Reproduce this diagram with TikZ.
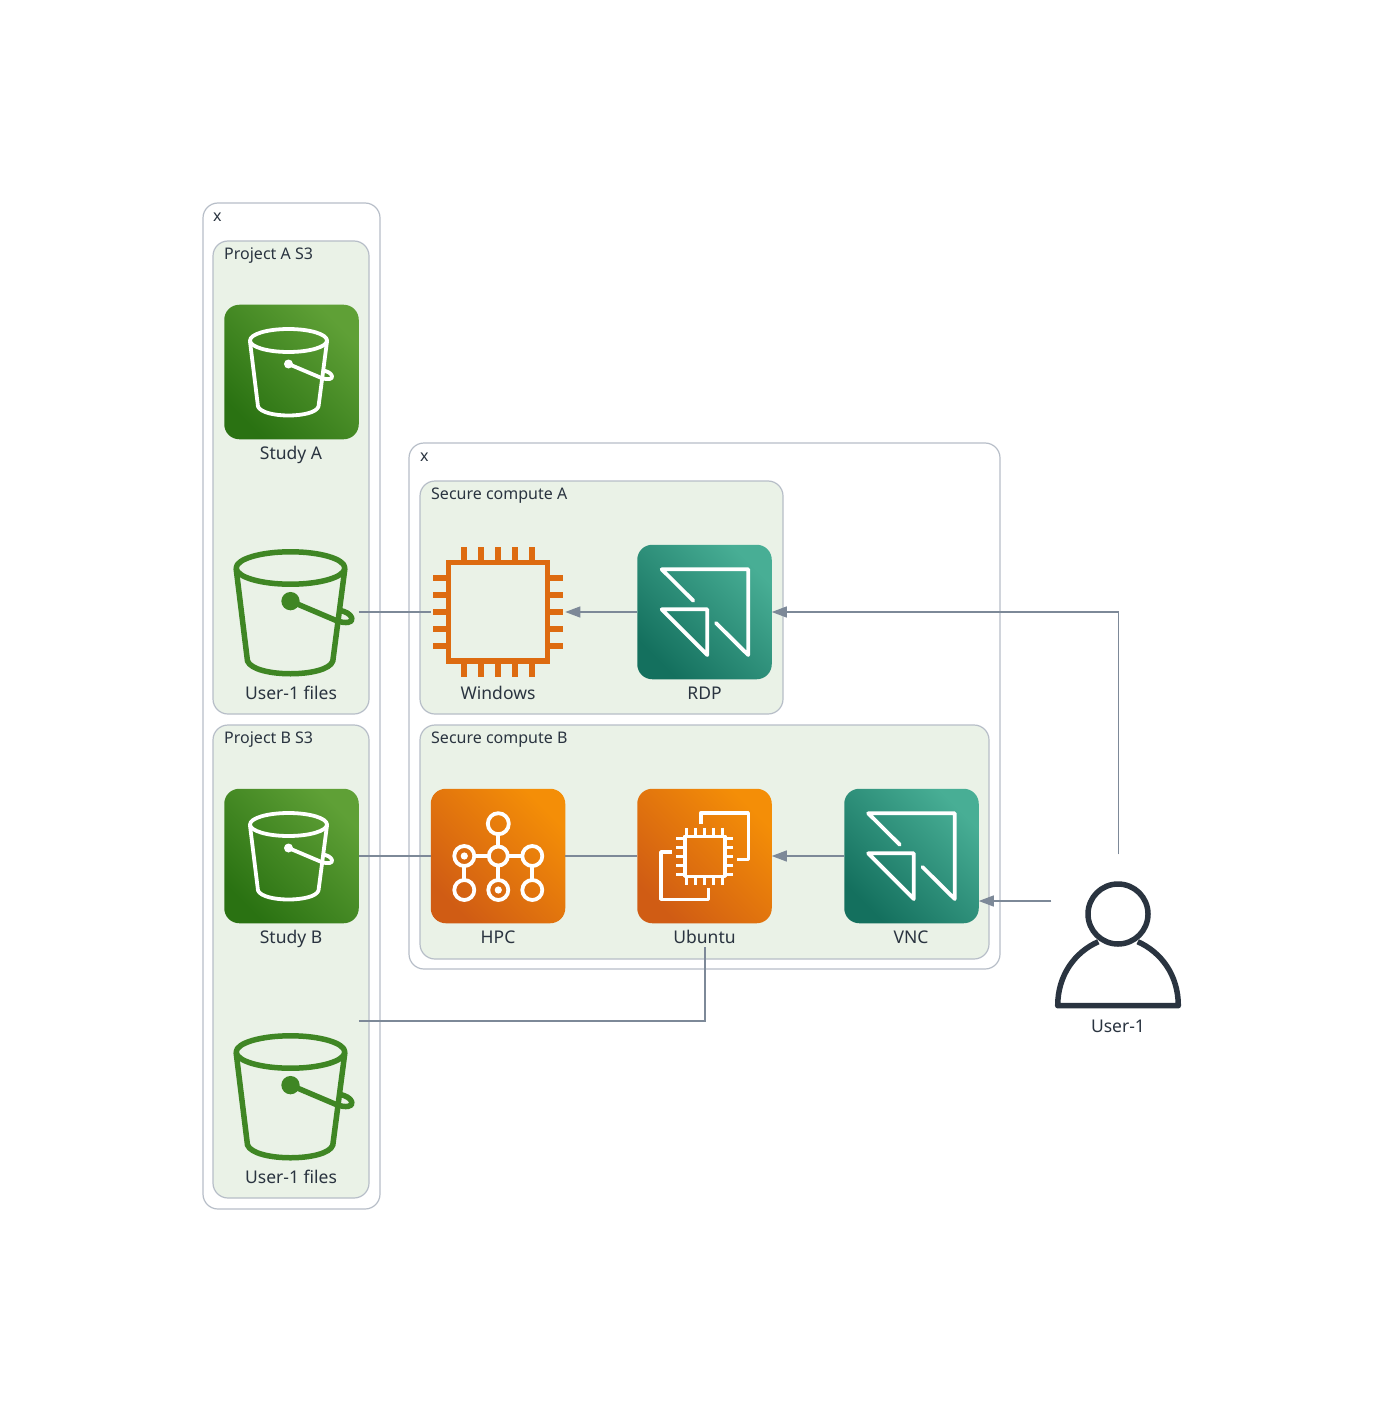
\documentclass[tikz,border=0pt]{standalone}
\usepackage{fontspec}
\setmainfont{Noto Sans}
\usetikzlibrary{arrows.meta,calc}
\definecolor{ink}{HTML}{2A3440}
\definecolor{edgec}{HTML}{7D8998}
\definecolor{groupline}{HTML}{B7BEC8}
\definecolor{groupfill}{HTML}{EAF2E7}
\definecolor{storage}{HTML}{3F8624}
\definecolor{compute}{HTML}{DD6B10}
\definecolor{greenlo}{HTML}{2A7212}
\definecolor{greenhi}{HTML}{5FA036}
\definecolor{orangelo}{HTML}{D05C14}
\definecolor{orangehi}{HTML}{F48E07}
\definecolor{teallo}{HTML}{14705E}
\definecolor{tealhi}{HTML}{48AE95}
\tikzset{
  groupbox/.style={draw=groupline,line width=1.2pt,rounded corners=15pt,inner sep=0pt,outer sep=0pt},
  outerbox/.style={groupbox,fill=white},
  innerbox/.style={groupbox,fill=groupfill},
  grouplabel/.style={anchor=base west,font=\fontsize{16}{18}\selectfont,text=ink,inner sep=0pt},
  iconlabel/.style={anchor=base,font=\fontsize{17.5}{20}\selectfont,text=ink,inner sep=0pt},
  slot/.style={minimum size=134.5pt,inner sep=0pt,outer sep=0pt},
  greenicon/.style={slot,rounded corners=15pt,left color=greenlo,right color=greenhi,shading angle=135},
  orangeicon/.style={slot,rounded corners=15pt,left color=orangelo,right color=orangehi,shading angle=135},
  tealicon/.style={slot,rounded corners=15pt,left color=teallo,right color=tealhi,shading angle=135},
  conn/.style={draw=edgec,line width=1.2pt},
  arrowconn/.style={conn,-{Triangle[length=15pt,width=11pt]}},
  glyph/.style={draw=white,line width=3.8pt,line join=round},
}
% #1 ellipse centre, #2 scale, #3 colour, #4 line width, #5 dot radius
\newcommand{\bucketglyph}[5]{%
  \begin{scope}[shift={#1},scale=#2,draw=#3,line width=#4,line cap=round,line join=round]
    \draw (0,0) ellipse (38.5 and 11.5);
    \draw (-38.5,1) -- (-30.5,66) .. controls (-28,72) and (-14,75) .. (0,75)
      .. controls (14,75) and (28,72) .. (30,66) -- (38.5,1);
    \fill[#3] (0,23.5) circle (#5);
    \draw (0,23.5) -- (33,37.5) .. controls (39,39.5) and (44.5,39) .. (43.5,35.5)
      .. controls (42.5,32.5) and (39,31) .. (35,30);
  \end{scope}}
\newcommand{\rdpglyph}[1]{%
  \begin{scope}[shift={#1},line cap=round]
    \draw[glyph] (-11.7,-11.3) -- (-43.3,-42.7) -- (43.2,-42.7) -- (43.2,43) -- (11,11);
    \draw[glyph] (-43.3,-2.7) -- (2.3,-2.7) -- (2.3,43) -- cycle;
  \end{scope}}
\begin{document}
\begin{tikzpicture}[x=1pt,y=-1pt]
\useasboundingbox[fill=white] (0,0) rectangle (1377,1412);
% groups
\node[outerbox,minimum width=177pt,minimum height=1006pt] (outerL) at (291.5,706) {};
\node[outerbox,minimum width=591pt,minimum height=526pt] (outerR) at (704.5,706) {};
\node[innerbox,minimum width=156pt,minimum height=473pt] (projA) at (291,477.5) {};
\node[innerbox,minimum width=156pt,minimum height=473pt] (projB) at (291,961.5) {};
\node[innerbox,minimum width=363pt,minimum height=233pt] (secA) at (601.5,597.5) {};
\node[innerbox,minimum width=569pt,minimum height=234pt] (secB) at (704.5,842) {};
\node[grouplabel] (lx1) at (213,222) {x};
\node[grouplabel] (lx2) at (420,461) {x};
\node[grouplabel] (lpa) at (224,260) {Project A S3};
\node[grouplabel] (lpb) at (224,743) {Project B S3};
\node[grouplabel] (lsa) at (431,499) {Secure compute A};
\node[grouplabel] (lsb) at (431,743) {Secure compute B};
% icon nodes
\node[greenicon] (studyA) at (291.5,372) {};
\node[greenicon] (studyB) at (291.5,856) {};
\node[slot] (filesA) at (291.5,612) {};
\node[slot] (filesB) at (291.5,1096) {};
\node[slot] (windows) at (498,612) {};
\node[tealicon] (rdp) at (704.5,612) {};
\node[orangeicon] (hpc) at (498,856) {};
\node[orangeicon] (ubuntu) at (704.5,856) {};
\node[tealicon] (vnc) at (911.5,856) {};
\node[slot] (user) at (1118.5,921.5) {};
% labels
\node[iconlabel] (lstudyA) at (291,459) {Study A};
\node[iconlabel] (lstudyB) at (291,943) {Study B};
\node[iconlabel] (lfilesA) at (291,699) {User-1 files};
\node[iconlabel] (lfilesB) at (291,1183) {User-1 files};
\node[iconlabel] (lwin) at (498,699) {Windows};
\node[iconlabel] (lrdp) at (704.5,699) {RDP};
\node[iconlabel] (lhpc) at (498,943) {HPC};
\node[iconlabel] (lubu) at (704.5,943) {Ubuntu};
\node[iconlabel] (lvnc) at (911,943) {VNC};
\node[iconlabel] (luser) at (1118,1032) {User-1};
% glyphs
\bucketglyph{(288.5,340.5)}{1}{white}{3.8pt}{4.5}
\bucketglyph{(288.5,824.5)}{1}{white}{3.8pt}{4.5}
\bucketglyph{(290.5,568)}{1.41}{storage}{5.5pt}{6.5}
\bucketglyph{(290.5,1052)}{1.41}{storage}{5.5pt}{6.5}
% windows chip
\begin{scope}[shift={(498,612)},draw=compute,line width=5.5pt]
  \draw (-49.5,-49.5) rectangle (49.5,49);
  \foreach \p in {-34,-17,0,17,34}{
    \draw (\p,-65) -- (\p,-52);
    \draw (\p,52) -- (\p,65);
    \draw (-65,\p) -- (-52,\p);
    \draw (52,\p) -- (65,\p);
  }
\end{scope}
\rdpglyph{(705,612)}
\rdpglyph{(911.5,856)}
% hpc
\begin{scope}[shift={(498.3,856)},draw=white,line width=3.8pt]
  \draw (0,-21.7) -- (0,-9.5) (0,9.5) -- (0,23.5) (-24,0) -- (-9.5,0) (9.5,0) -- (24,0)
        (-34,10) -- (-34,24) (34,10) -- (34,24);
  \foreach \a/\b/\r in {0/-32.3/10.5,0/0/9.5,-34/0/10,34/0/10,-34/34/10,0/34/10,34/34/10}
    \draw (\a,\b) circle (\r);
  \fill[white] (-34,0) circle (3.6);
  \fill[white] (0,34) circle (3.6);
\end{scope}
% ec2
\begin{scope}[shift={(704.7,856.3)},draw=white,line width=3.6pt,line join=round]
  \draw (-20,-20) rectangle (20,20);
  \foreach \p in {-18,-9,0,9,18}{
    \draw[line width=3pt] (\p,-28.5) -- (\p,-21);
    \draw[line width=3pt] (\p,21) -- (\p,28.5);
    \draw[line width=3pt] (-28.5,\p) -- (-21,\p);
    \draw[line width=3pt] (21,\p) -- (28.5,\p);
  }
  \draw (-3.7,-32.3) -- (-3.7,-43.6) -- (43.6,-43.6) -- (43.6,3) -- (32,3);
  \draw (-33,-4.3) -- (-43.7,-4.3) -- (-43.7,43) -- (3.6,43) -- (3.6,32);
\end{scope}
% user
\begin{scope}[draw=ink,line width=5.5pt,line join=round]
  \draw (1118,914) circle (30);
  \draw (1098.3,941.7) .. controls (1075,952) and (1057.7,975) .. (1057.7,1005.7)
     -- (1178.3,1005.7) .. controls (1178.3,975) and (1161,952) .. (1137.7,941.7);
\end{scope}
% connectors
\coordinate (fileBend) at (filesB.east |- 0,1021);
\coordinate (userW) at ($(user.west)+(0,20.5pt)$);
\coordinate (ubuDrop) at (705,947);
\draw[conn] (filesA.east) -- (windows.west);
\draw[arrowconn] (rdp.west) -- (windows.east);
\draw[arrowconn] (user.north) |- (rdp.east);
\draw[conn] (studyB.east) -- (hpc.west);
\draw[conn] (hpc.east) -- (ubuntu.west);
\draw[arrowconn] (vnc.west) -- (ubuntu.east);
\draw[arrowconn] (userW) -- (userW -| vnc.east);
\draw[conn] (fileBend) -| (ubuDrop);
\end{tikzpicture}
\end{document}
